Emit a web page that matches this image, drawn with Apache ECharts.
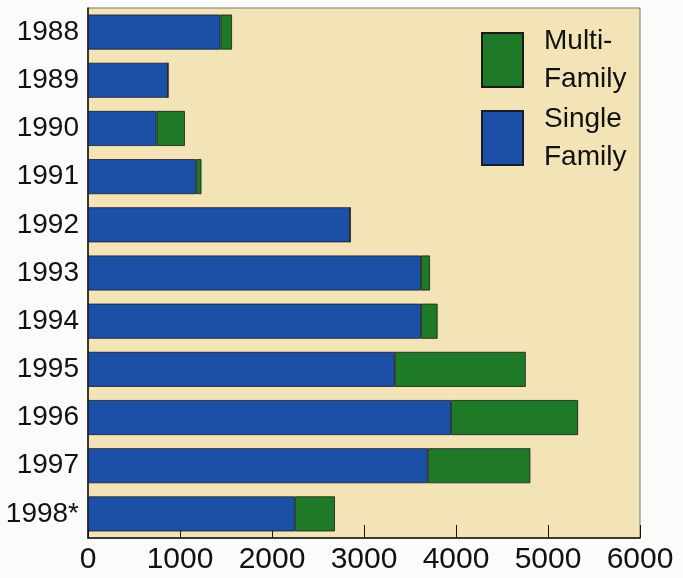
<!DOCTYPE html>
<html>
<head>
<meta charset="utf-8">
<script src="https://cdn.jsdelivr.net/npm/echarts@6/dist/echarts.min.js"></script>
<style>
html,body{margin:0;padding:0;background:#fbfbfa;}
#chart{width:683px;height:578px;}
</style>
</head>
<body>
<div id="chart"></div>
<script>
const years = ['1988','1989','1990','1991','1992','1993','1994','1995','1996','1997','1998*'];
const singleFamily = [1440, 870, 745, 1178, 2850, 3620, 3620, 3335, 3945, 3693, 2248];
const multiFamily  = [125, 0, 308, 55, 0, 97, 180, 1423, 1382, 1115, 436];
const xTicks = [0, 1000, 2000, 3000, 4000, 5000, 6000];

const FONT = "'Liberation Sans', Arial, sans-serif";
const chart = echarts.init(document.getElementById('chart'), null, {renderer: 'canvas'});
chart.setOption({
  backgroundColor: '#fbfbfa',
  animation: false,
  grid: {
    left: 88, right: 43, top: 8, bottom: 40,
    containLabel: false, outerBoundsMode: 'none',
    show: true, backgroundColor: '#f2e4b6', borderColor: '#777', borderWidth: 1
  },
  legend: {
    orient: 'vertical',
    left: 481, top: 22,
    padding: 0,
    itemGap: 2,
    itemWidth: 41, itemHeight: 54,
    icon: 'rect',
    data: ['Multi-Family', 'Single Family'],
    formatter: function (n) { return n === 'Multi-Family' ? 'Multi-\nFamily' : 'Single\nFamily'; },
    textStyle: { fontFamily: FONT, fontSize: 28, lineHeight: 38, color: '#111', padding: [0, 0, 0, 16] }
  },
  xAxis: {
    type: 'value', min: xTicks[0], max: xTicks[xTicks.length - 1], interval: 1000,
    splitLine: { show: false },
    axisLine: { show: true, lineStyle: { color: '#111', width: 1.5 } },
    axisTick: { show: true, inside: true, length: 13, lineStyle: { color: '#111', width: 1 } },
    axisLabel: {
      fontFamily: FONT, fontSize: 30, color: '#111', margin: 7, showMinLabel: true, showMaxLabel: true,
      formatter: function (v) { return String(v); }
    }
  },
  yAxis: {
    type: 'category', data: years, inverse: true,
    axisLine: { show: true, lineStyle: { color: '#111', width: 1.5 } },
    axisTick: { show: false },
    axisLabel: { fontFamily: FONT, fontSize: 28, color: '#111', margin: 9 }
  },
  series: [
    {
      name: 'Single Family', type: 'bar', stack: 'total', data: singleFamily,
      barWidth: 35,
      itemStyle: { color: '#1c4fa6', borderColor: '#1b1b2a', borderWidth: 0.8 }
    },
    {
      name: 'Multi-Family', type: 'bar', stack: 'total', data: multiFamily,
      barWidth: 35,
      itemStyle: { color: '#1f7a27', borderColor: '#1b1b1b', borderWidth: 0.8 }
    }
  ]
});
</script>
</body>
</html>
